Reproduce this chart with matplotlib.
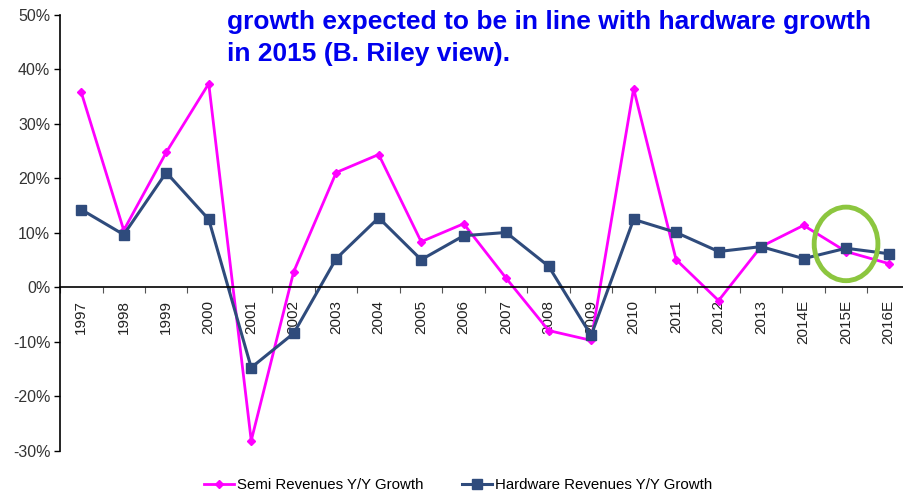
import numpy as np
import matplotlib.pyplot as plt
from matplotlib.patches import Ellipse

plt.rcParams['font.family'] = ['Liberation Sans', 'DejaVu Sans']

# data
years = ['1997', '1998', '1999', '2000', '2001', '2002', '2003', '2004', '2005', '2006',
         '2007', '2008', '2009', '2010', '2011', '2012', '2013', '2014E', '2015E', '2016E']
semi = [35.8, 10.5, 24.8, 37.4, -28.1, 2.9, 21.1, 24.4, 8.4, 11.7,
        1.7, -7.9, -9.7, 36.5, 5.1, -2.4, 7.5, 11.4, 6.6, 4.4]
hardware = [14.3, 9.7, 21.1, 12.5, -14.7, -8.4, 5.3, 12.8, 5.1, 9.5,
            10.1, 3.9, -8.8, 12.5, 10.1, 6.6, 7.5, 5.3, 7.2, 6.2]
yticks = [-30, -20, -10, 0, 10, 20, 30, 40, 50]

fig = plt.figure(figsize=(9.04, 4.95), dpi=100)
ax = fig.add_axes([0.0664, 0.0889, 0.940, 0.8808])

# move x axis to zero first (it resets tick settings)
ax.spines['bottom'].set_position(('data', 0))
ax.spines['bottom'].set_linewidth(1.2)
ax.spines['left'].set_linewidth(1.2)
ax.spines['top'].set_visible(False)
ax.spines['right'].set_visible(False)

x = np.arange(len(years))
ax.plot(x, semi, color='#ff00ff', lw=2, marker='D', ms=4.5, label='Semi Revenues Y/Y Growth')
ax.plot(x, hardware, color='#2f4b7c', lw=2.2, marker='s', ms=7, label='Hardware Revenues Y/Y Growth')

ax.set_xlim(-0.5, len(years) - 0.5)
ax.set_ylim(-30, 50)
ax.set_yticks(yticks)
ax.set_yticklabels([f'{t}%' for t in yticks], fontsize=11.5, color='#333333')
ax.tick_params(axis='y', length=4, width=1, pad=3)

ax.set_xticks(x)
ax.set_xticklabels(years, fontsize=11, color='#222222')
ax.set_xticks(np.arange(-0.5, len(years)), minor=True)
ax.tick_params(axis='x', which='major', length=0, pad=9, labelrotation=90)
ax.tick_params(axis='x', which='minor', length=4, width=0.8, color='#555555')

# highlight 2015E
ax.add_patch(Ellipse((18, 8), 1.5, 13.5, fill=False, ec='#8cc63f', lw=3.5, zorder=5))

fig.text(227 / 904, 1 - 22 / 495, 'growth expected to be in line with hardware growth',
         color='#0000ee', fontsize=19, fontweight='bold', va='center', ha='left')
fig.text(227 / 904, 1 - 54 / 495, 'in 2015 (B. Riley view).',
         color='#0000ee', fontsize=19, fontweight='bold', va='center', ha='left')

fig.legend(loc='center', bbox_to_anchor=(0.507, 0.02), ncol=2, frameon=False,
           fontsize=10.8, handlelength=2.0, columnspacing=2.6, handletextpad=0.2)

fig.savefig('out.png', dpi=100)
